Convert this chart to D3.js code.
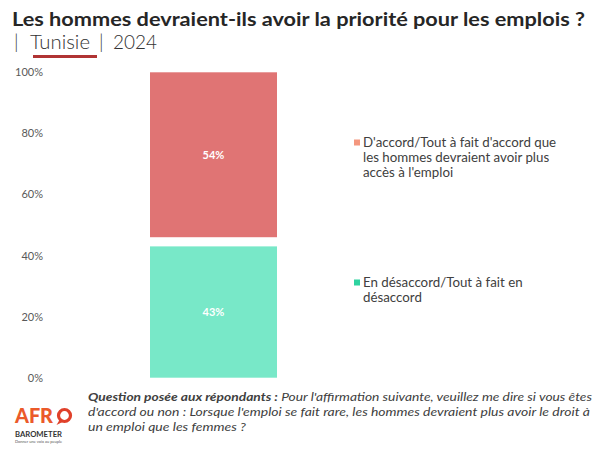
<!DOCTYPE html>
<html>
<head>
<meta charset="utf-8">
<script src="https://cdn.jsdelivr.net/npm/d3@7"></script>
<style>
  html, body { margin: 0; padding: 0; background: #fff; }
  svg { display: block; }
  text { font-family: "Lato", "DejaVu Sans", sans-serif; }
</style>
</head>
<body>
<svg id="chart" width="600" height="450"></svg>
<script>
// ---- Data ----
const categories = ["Tunisie"];
const seriesNames = ["En désaccord/Tout à fait en désaccord", "Ne sait pas/Refus", "D'accord/Tout à fait d'accord que les hommes devraient avoir plus accès à l'emploi"];
const disagreeValues = [43];
const dontKnowValues = [3];
const agreeValues = [54];
const tickValues = [0, 20, 40, 60, 80, 100];
const tickLabels = ["0%", "20%", "40%", "60%", "80%", "100%"];

const titleText = "Les hommes devraient-ils avoir la priorité pour les emplois ?";
const legendItems = [
  { lines: ["D'accord/Tout à fait d'accord que", "les hommes devraient avoir plus", "accès à l'emploi"], color: "#F4977E" },
  { lines: ["En désaccord/Tout à fait en", "désaccord"], color: "#2ED3A0" }
];

// ---- Setup ----
const svg = d3.select("#chart");
const margin = { top: 72.3, bottom: 377.7 };

const y = d3.scaleLinear().domain([0, 100]).range([margin.bottom, margin.top]);
const x = d3.scaleBand().domain(categories).range([150, 277]).padding(0);

const rows = categories.map((c, i) => ({
  cat: c,
  disagree: disagreeValues[i],
  dk: dontKnowValues[i],
  agree: agreeValues[i]
}));
const keys = ["disagree", "dk", "agree"];
const fills = { disagree: "#78E8C8", dk: "rgba(255,255,255,0)", agree: "#E07474" };
const stack = d3.stack().keys(keys)(rows);

// ---- Title ----
svg.append("text")
  .attr("x", 12).attr("y", 26)
  .attr("font-size", 19.5).attr("font-weight", 700)
  .attr("fill", "#262626")
  .attr("textLength", 573).attr("lengthAdjust", "spacingAndGlyphs")
  .text(titleText);

const sub = svg.append("g").attr("fill", "#333").attr("font-size", 19).attr("font-weight", 300);
[["|", 14, null], ["Tunisie", 30, 60], ["|", 99, null], ["2024", 113, 44]].forEach(([t, px, w]) => {
  const tx = sub.append("text").attr("x", px).attr("y", 48.5).text(t);
  if (w) tx.attr("textLength", w).attr("lengthAdjust", "spacingAndGlyphs");
});

svg.append("rect")
  .attr("x", 33).attr("y", 55).attr("width", 64).attr("height", 3)
  .attr("fill", "#B03434");

// ---- Y axis ----
const yAxis = d3.axisLeft(y)
  .tickValues(tickValues)
  .tickFormat((d, i) => tickLabels[i])
  .tickSize(0).tickPadding(0);
const gy = svg.append("g").attr("transform", "translate(43,0)").call(yAxis);
gy.select(".domain").remove();
gy.selectAll("text")
  .attr("font-size", 11).attr("fill", "#595959")
  .attr("font-family", "Lato, 'DejaVu Sans', sans-serif");

// ---- Bars ----
const layers = svg.append("g").selectAll("g").data(stack).join("g")
  .attr("fill", d => fills[d.key]);

layers.selectAll("rect").data(d => d.map(v => ({ v, key: d.key }))).join("rect")
  .attr("x", d => x(d.v.data.cat))
  .attr("width", x.bandwidth())
  .attr("y", d => y(d.v[1]))
  .attr("height", d => y(d.v[0]) - y(d.v[1]));

// ---- Labels ----
layers.filter(d => d.key !== "dk").selectAll("text.lbl").data(d => d.map(v => ({ v, key: d.key }))).join("text")
  .attr("class", "lbl")
  .attr("x", d => x(d.v.data.cat) + x.bandwidth() / 2)
  .attr("y", d => (y(d.v[0]) + y(d.v[1])) / 2)
  .attr("dy", "0.35em")
  .attr("text-anchor", "middle")
  .attr("font-size", 11).attr("font-weight", 700)
  .attr("fill", "#fff")
  .text(d => Math.round(d.v[1] - d.v[0]) + "%");

// ---- Legend ----
const legendY = [142.5, 282.5];
legendItems.forEach((item, i) => {
  const g = svg.append("g");
  g.append("rect")
    .attr("x", 354).attr("y", legendY[i] - 3).attr("width", 6).attr("height", 6)
    .attr("fill", item.color);
  item.lines.forEach((ln, j) => {
    g.append("text")
      .attr("x", 363).attr("y", legendY[i] + j * 15)
      .attr("dy", "0.35em")
      .attr("font-size", 13.3).attr("fill", "#404040")
      .text(ln);
  });
});

// ---- Footer question ----
const footG = svg.append("g").attr("font-size", 12).attr("font-style", "italic").attr("fill", "#404040");
const f1 = footG.append("text").attr("x", 88).attr("y", 401)
  .attr("textLength", 504).attr("lengthAdjust", "spacingAndGlyphs");
f1.append("tspan").attr("font-weight", 700).text("Question posée aux répondants :");
f1.append("tspan").text(" Pour l'affirmation suivante, veuillez me dire si vous êtes");
footG.append("text").attr("x", 88).attr("y", 416)
  .attr("textLength", 502).attr("lengthAdjust", "spacingAndGlyphs")
  .text("d'accord ou non : Lorsque l'emploi se fait rare, les hommes devraient plus avoir le droit à");
footG.append("text").attr("x", 88).attr("y", 431)
  .attr("textLength", 158).attr("lengthAdjust", "spacingAndGlyphs")
  .text("un emploi que les femmes ?");

// ---- Logo ----
const logo = svg.append("g");
logo.append("text")
  .attr("x", 15).attr("y", 423)
  .attr("font-size", 21).attr("font-weight", 900)
  .attr("font-family", "Roboto, 'DejaVu Sans', sans-serif")
  .attr("fill", "#EB5A2A")
  .attr("textLength", 38).attr("lengthAdjust", "spacingAndGlyphs")
  .text("AFR");
logo.append("circle")
  .attr("cx", 64.5).attr("cy", 415.5).attr("r", 6)
  .attr("fill", "none").attr("stroke", "#E0402A").attr("stroke-width", 3.2);
logo.append("path")
  .attr("d", "M59.5,420 L56.5,425 L62.5,422 Z")
  .attr("fill", "#E0402A");
logo.append("text")
  .attr("x", 15).attr("y", 437)
  .attr("font-size", 8.3).attr("font-weight", 700)
  .attr("font-family", "Roboto, 'DejaVu Sans', sans-serif")
  .attr("fill", "#333")
  .attr("textLength", 47).attr("lengthAdjust", "spacingAndGlyphs")
  .text("BAROMETER");
logo.append("text")
  .attr("x", 15).attr("y", 442.5)
  .attr("font-size", 4.5)
  .attr("fill", "#555")
  .attr("textLength", 47).attr("lengthAdjust", "spacingAndGlyphs")
  .text("Donner une voix au peuple");
</script>
</body>
</html>
